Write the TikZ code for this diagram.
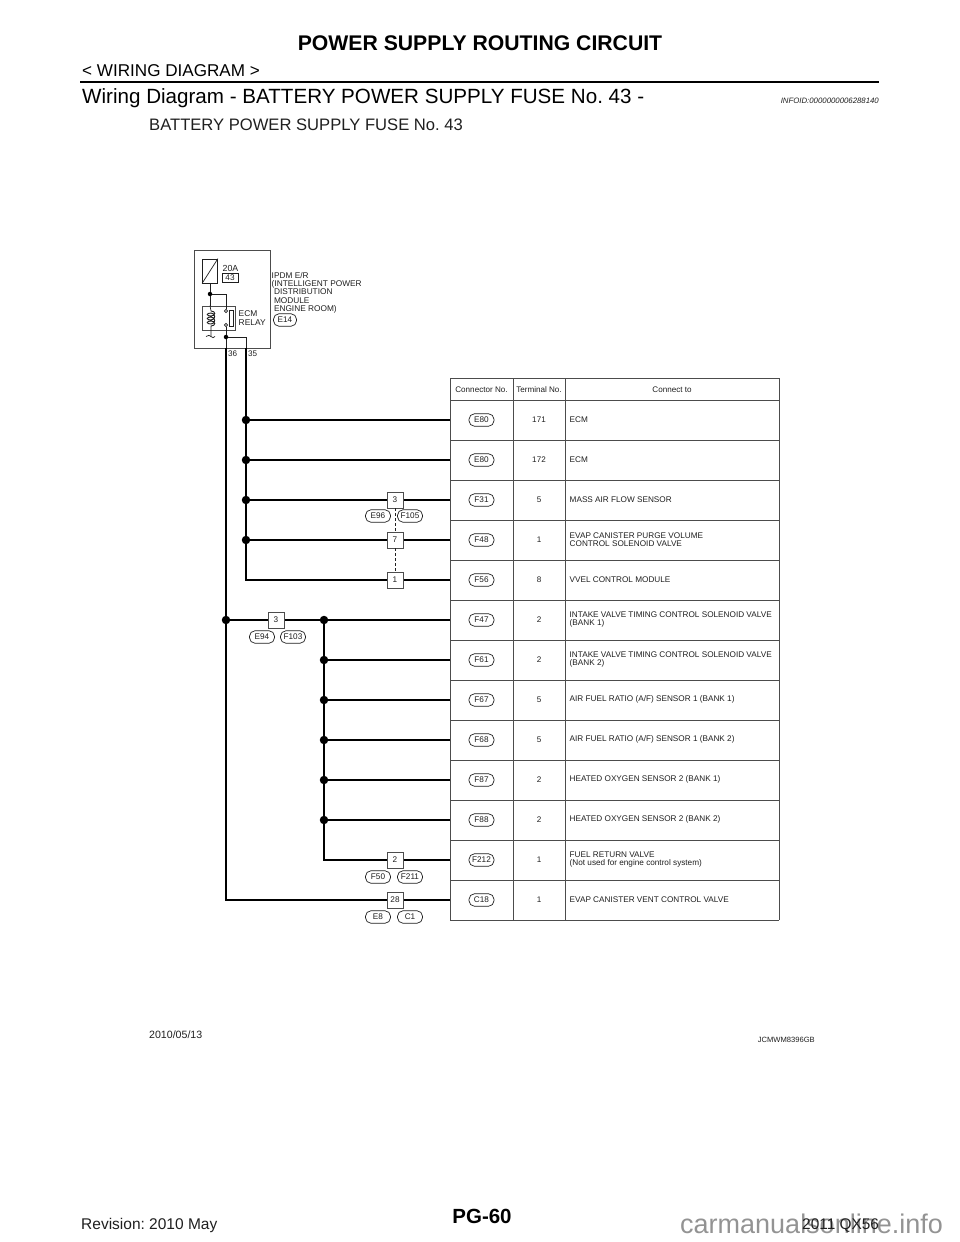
\documentclass[tikz,border=0pt]{standalone}
\usepackage{fontspec}
\setmainfont{Liberation Sans}
\usetikzlibrary{calc}
\definecolor{ink}{gray}{0.12}
\definecolor{grid}{gray}{0.3}
\tikzset{
  wire/.style={line width=2pt,draw=black},
  thin wire/.style={line width=0.9pt,draw=ink},
  gridline/.style={line width=0.9pt,draw=grid},
  dot/.style={circle,fill=black,inner sep=0pt,minimum size=8.5pt},
  smalldot/.style={circle,fill=black,inner sep=0pt,minimum size=4.5pt},
  contact/.style={circle,draw=ink,fill=white,line width=0.6pt,inner sep=0pt,minimum size=3.2pt},
  pill/.style={draw=ink,line width=0.7pt,rounded corners=5.5pt,fill=white,minimum width=25pt,minimum height=12.5pt,inner sep=0pt,font=\fontsize{8.2}{8.5}\selectfont,text=ink},
  pin/.style={draw=grid,line width=0.9pt,fill=white,minimum size=16pt,inner sep=0pt,font=\fontsize{8.2}{8.5}\selectfont,text=ink},
  lab/.style={inner sep=0pt,anchor=west,align=left,text=ink,font=\fontsize{8.2}{7.7}\selectfont},
  ctr/.style={inner sep=0pt,text=ink,font=\fontsize{8.1}{8.5}\selectfont},
}
\begin{document}
\frenchspacing
\begin{tikzpicture}[x=1pt,y=-1pt]
\useasboundingbox (0,0) rectangle (960,1242);
% page header
\node[inner sep=0pt,anchor=base,font=\bfseries\fontsize{21.2}{22}\selectfont] (head) at (480,50.5) {POWER SUPPLY ROUTING CIRCUIT};
\node[inner sep=0pt,anchor=base west,font=\fontsize{17.1}{18}\selectfont] (sub) at (82,76) {< WIRING DIAGRAM >};
\coordinate (ruleL) at (80,82); \coordinate (ruleR) at (879,82);
\draw[line width=2pt] (ruleL) -- (ruleR);
\node[inner sep=0pt,anchor=base west,font=\fontsize{20.6}{21}\selectfont] (title) at (82,103) {Wiring Diagram - BATTERY POWER SUPPLY FUSE No. 43 -};
\node[inner sep=0pt,anchor=base east,font=\itshape\fontsize{7.8}{8}\selectfont,text=ink] (info) at (879,103) {INFOID:0000000006288140};
\node[inner sep=0pt,anchor=base west,font=\fontsize{16.6}{17}\selectfont,text=ink] (sect) at (149,130.5) {BATTERY POWER SUPPLY FUSE No. 43};
% IPDM block
\node[draw=grid,line width=0.9pt,minimum width=76pt,minimum height=98pt,inner sep=0pt] (ipdm) at (232,299) {};
\node[draw=ink,line width=0.9pt,minimum width=15pt,minimum height=24pt,inner sep=0pt] (fuse) at (210,271) {};
\draw[line width=0.7pt,draw=ink] (fuse.south west) -- (fuse.north east);
\node[ctr,anchor=base west,font=\fontsize{8.8}{9}\selectfont] (amp) at (222.5,271) {20A};
\node[draw=ink,line width=0.8pt,minimum width=16pt,minimum height=9pt,inner sep=0pt,font=\fontsize{8.2}{8.5}\selectfont,text=ink] (f43) at (230,277.5) {43};
\node[draw=grid,line width=0.9pt,minimum width=33pt,minimum height=24pt,inner sep=0pt] (relay) at (218.5,318) {};
\node[smalldot] (j1) at (210,294) {};
\node[contact] (c1) at (226,311) {};
\node[contact] (c2) at (226,325) {};
\node[draw=ink,line width=0.7pt,minimum width=3.5pt,minimum height=16pt,inner sep=0pt] (sw) at (231.5,318) {};
\node[smalldot] (j2) at (226,337) {};
\coordinate (coilT) at (211,311); \coordinate (coilB) at (211,326);
\coordinate (gnd) at (211,336);
\draw[thin wire] (fuse.south) -- (j1);
\draw[thin wire] (j1) -- (relay.north -| j1);
\draw[thin wire] (j1) -| (c1);
\draw[thin wire] (c2) -- (j2);
\draw[line width=0.7pt,draw=ink] ($(relay.north -| j1)$) -- (coilT);
\draw[line width=0.9pt,draw=ink] (coilT)
  .. controls (216,311) and (216,316) .. (211,316)
  .. controls (206,316) and (206,313) .. (211,313)
  .. controls (216,313) and (216,320) .. (211,320)
  .. controls (206,320) and (206,317) .. (211,317)
  .. controls (216,317) and (216,324) .. (211,324)
  .. controls (206,324) and (206,321) .. (211,321)
  .. controls (216,321) and (216,326) .. (211,326)
  -- (gnd);
\draw[line width=0.7pt,draw=ink] (206,336.5) .. controls (208,335) and (210,335) .. (211,336.5) .. controls (212,338) and (214,338) .. (215,336.5);
\node[lab,align=left,font=\fontsize{8.4}{8.6}\selectfont] (ecm) at (238.5,318) {ECM\\RELAY};
\node[lab,anchor=north west,font=\fontsize{8.3}{8.1}\selectfont] (ipdmt) at (271.5,272.5) {IPDM E/R\\(INTELLIGENT POWER\\\ DISTRIBUTION\\\ MODULE\\\ ENGINE ROOM)};
\node[pill,minimum width=23pt] (e14) at (285,320) {E14};
\node[ctr] (t36) at (232.7,353.5) {36};
\node[ctr] (t35) at (252.7,353.5) {35};
% table
\foreach \x in {450,513,565,779} \draw[gridline] (\x,378) -- (\x,920);
\foreach \y in {378,400,440,480,520,560,600,640,680,720,760,800,840,880,920} \draw[gridline] (450,\y) -- (779,\y);
\node[ctr] (h1) at (481.5,389.5) {Connector No.};
\node[ctr] (h2) at (539,389.5) {Terminal No.};
\node[ctr] (h3) at (672,389.5) {Connect to};
\foreach \y/\c/\t/\d in {
 420/E80/171/ECM,
 460/E80/172/ECM,
 500/F31/5/MASS AIR FLOW SENSOR,
 540/F48/1/{EVAP CANISTER PURGE VOLUME\\CONTROL SOLENOID VALVE},
 580/F56/8/VVEL CONTROL MODULE,
 620/F47/2/{INTAKE VALVE TIMING CONTROL SOLENOID VALVE\\(BANK 1)},
 660/F61/2/{INTAKE VALVE TIMING CONTROL SOLENOID VALVE\\(BANK 2)},
 700/F67/5/{AIR FUEL RATIO (A/F) SENSOR 1 (BANK 1)},
 740/F68/5/{AIR FUEL RATIO (A/F) SENSOR 1 (BANK 2)},
 780/F87/2/HEATED OXYGEN SENSOR 2 (BANK 1),
 820/F88/2/HEATED OXYGEN SENSOR 2 (BANK 2),
 860/F212/1/{FUEL RETURN VALVE\\(Not used for engine control system)},
 900/C18/1/EVAP CANISTER VENT CONTROL VALVE}{
  \coordinate (t\y) at (450,\y);
  \node[pill] (conn\y) at (481.5,\y) {\c};
  \node[ctr] (term\y) at (539,\y-0.5) {\t};
  \node[lab] (desc\y) at (569.5,\y-0.5) {\d};
}
% wiring
\coordinate (b36) at (226,348);
\coordinate (b35) at (246,348);
\coordinate (end35) at (246,580);
\coordinate (end36) at (226,900);
\coordinate (end324) at (324,860);
\node[dot] (m620) at (226,620) {};
\foreach \y in {420,460,500,540} \node[dot] (a\y) at (246,\y) {};
\foreach \y in {620,660,700,740,780,820} \node[dot] (b\y) at (324,\y) {};
\draw[thin wire] (j2) -- (b36);
\draw[thin wire] (j2) -| (b35);
\draw[wire] (b36) -- (end36) -- (t900);
\draw[wire] (b35) -- (end35) -- (t580);
\foreach \y in {420,460,500,540} \draw[wire] (a\y) -- (t\y);
\draw[wire] (m620) -- (b620) -- (t620);
\draw[wire] (b620) -- (end324) -- (t860);
\foreach \y in {660,700,740,780,820} \draw[wire] (b\y) -- (t\y);
% inline connectors
\node[pin] (p3) at (395,500) {3};
\node[pin] (p7) at (395,540) {7};
\node[pin] (p1) at (395,580) {1};
\draw[line width=0.7pt,draw=ink,densely dashed] (p3) -- (p7);
\draw[line width=0.7pt,draw=ink,densely dashed] (p7) -- (p1);
\node[pill] (e96) at (378,516) {E96};
\node[pill] (f105) at (410,516) {F105};
\node[pin] (q3) at (276,620) {3};
\node[pill] (e94) at (262,637) {E94};
\node[pill] (f103) at (293,637) {F103};
\node[pin] (r2) at (395,860) {2};
\node[pill] (f50) at (378,877) {F50};
\node[pill] (f211) at (410,877) {F211};
\node[pin] (s28) at (395,900) {28};
\node[pill] (e8) at (378,917) {E8};
\node[pill] (c1p) at (410,917) {C1};
% footer
\node[inner sep=0pt,anchor=base west,text=ink,font=\fontsize{10.6}{11}\selectfont] (date) at (149,1038.5) {2010/05/13};
\node[inner sep=0pt,anchor=base east,text=ink,font=\fontsize{7.6}{8}\selectfont] (code) at (815,1042.5) {JCMWM8396GB};
\node[inner sep=0pt,font=\bfseries\fontsize{20.5}{21}\selectfont] (page) at (482,1216) {PG-60};
\node[inner sep=0pt,anchor=base west,text=ink,font=\fontsize{15.5}{16}\selectfont] (rev) at (81,1229) {Revision: 2010 May};
\node[inner sep=0pt,anchor=base west,text=gray!85,font=\fontsize{27}{28}\selectfont] (mark) at (680,1233) {carmanualsonline.info};
\node[inner sep=0pt,anchor=base west,text=ink,font=\fontsize{15.4}{16}\selectfont] (model) at (802,1229) {2011 QX56};
\end{tikzpicture}
\end{document}
